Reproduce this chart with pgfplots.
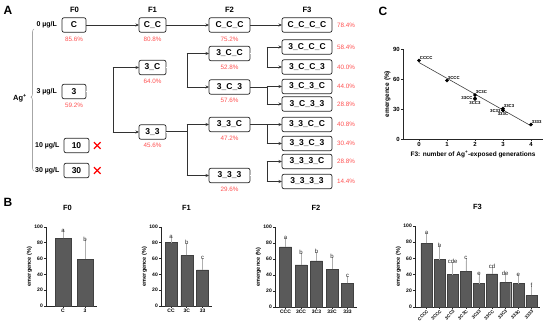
\documentclass[border=0pt]{standalone}
\usepackage{pgfplots}
\pgfplotsset{compat=1.18}
\usepackage{fontspec}
\setmainfont{Liberation Sans}
\usetikzlibrary{decorations.pathreplacing, arrows.meta}
\definecolor{pct}{RGB}{255,80,80}
\definecolor{barc}{RGB}{90,90,90}
\definecolor{errc}{RGB}{175,175,175}
\definecolor{linec}{RGB}{50,50,50}
\newcommand{\fs}[1]{\fontsize{#1}{#1}\selectfont}
\pgfplotsset{
  gp/.style={
    scale only axis, axis lines=left,
    axis line style={-, line width=0.6pt, black!85},
    tick align=outside, major tick length=2pt,
    tick style={line width=0.6pt, black!85},
    ticklabel style={font=\bfseries\fs{5}, inner sep=1pt},
    /pgf/number format/assume math mode=true,
    label style={font=\bfseries\fs{5.5}},
    ylabel style={yshift=-2pt},
    title style={font=\bfseries\fs{7.5}, at={(0.5,1)}, anchor=center, yshift=13pt},
    clip=false,
  },
  bp/.style={gp, ymin=0, ymax=100, ytick={0,20,...,100}, ylabel={emergence (\%)}},
  barsty/.style={ybar, fill=barc, draw=black!75, line width=0.4pt,
    error bars/y dir=plus, error bars/y explicit,
    error bars/error bar style={errc, line width=0.7pt},
    error bars/error mark options={errc, line width=0.7pt, mark size=3pt}},
  letsty/.style={draw=none, mark=none, nodes near coords, point meta=explicit symbolic,
    nodes near coords style={anchor=south, font=\fs{6}, inner sep=1pt, text=black!85}},
}
\begin{document}
\begin{tikzpicture}[x=1pt,y=1pt]
\path[use as bounding box] (0,0) rectangle (550,329);

% ---------- Panel labels ----------
\node[font=\bfseries\fs{12}] at (8,319) {A};
\node[font=\bfseries\fs{12}] at (8,127) {B};
\node[font=\bfseries\fs{12}] at (383,318) {C};

\draw[gray!70, line width=0.6pt, decorate, decoration={brace, amplitude=3pt, aspect=0.52}] (34,158) -- (34,300);
\node[font=\bfseries\fs{7.5}] at (20,231) {Ag\textsuperscript{+}};

\begin{scope}[shift={(0,329)}, yscale=-1]
\tikzset{
  bx/.style={draw=black!85, line width=0.7pt, rounded corners=2pt, inner sep=0pt,
    font=\bfseries\fs{8.5}, minimum height=14.5pt},
  c0/.style={bx, minimum width=24pt},
  c1/.style={bx, minimum width=27pt},
  c2/.style={bx, minimum width=41pt},
  c3/.style={bx, minimum width=50pt},
  pb/.style={font=\fs{6.3}, text=pct},
  pr/.style={font=\fs{6.3}, text=pct, anchor=west},
  hd/.style={font=\bfseries\fs{7.7}},
  cl/.style={font=\bfseries\fs{7}, anchor=east},
  ln/.style={draw=linec, line width=0.6pt},
  ar/.style={ln, -{Stealth[length=3.5pt,width=3pt]}},
  dl/.style={draw=linec, line width=0.5pt, double, double distance=0.9pt},
}
% headers
\node[hd] at (74.5,10) {F0};
\node[hd] at (152.5,10) {F1};
\node[hd] at (229.5,10) {F2};
\node[hd] at (307,10) {F3};
% concentrations
\node[cl] at (60.5,25) {0 µg/L};
\node[cl] at (60.5,91.5) {3 µg/L};
\node[cl] at (63,145.5) {10 µg/L};
\node[cl] at (63,170.5) {30 µg/L};
% F0
\node[c0] at (74,25) {C};
\node[c0] at (74,91.5) {3};
\node[bx, minimum width=25pt] at (76.5,145.5) {10};
\node[bx, minimum width=25pt] at (76.5,170.5) {30};
\node[pb] at (74,39) {85.6\%};
\node[pb] at (74,105) {59.2\%};
\foreach \yy in {145.5,170.5}{
  \draw[red, line width=1.3pt] (94,\yy-3.3) -- (100.6,\yy+3.3);
  \draw[red, line width=1.3pt] (94,\yy+3.3) -- (100.6,\yy-3.3);
}
% F1
\node[c1] at (152.5,25) {C\_C};
\node[c1] at (152.5,67.5) {3\_C};
\node[c1] at (152.5,132) {3\_3};
\node[pb] at (152.5,39) {80.8\%};
\node[pb] at (152.5,81.5) {64.0\%};
\node[pb] at (152.5,145.5) {45.6\%};
% F2
\node[c2] at (229.5,25) {C\_C\_C};
\node[c2] at (229.5,53.5) {3\_C\_C};
\node[c2] at (229.5,87) {3\_C\_3};
\node[c2] at (229.5,124.5) {3\_3\_C};
\node[c2] at (229.5,175.5) {3\_3\_3};
\node[pb] at (229.5,39) {75.2\%};
\node[pb] at (229.5,67) {52.8\%};
\node[pb] at (229.5,100.5) {57.6\%};
\node[pb] at (229.5,138) {47.2\%};
\node[pb] at (229.5,189.5) {29.6\%};
% F3
\node[c3] at (307,25) {C\_C\_C\_C};
\node[c3] at (307,47) {3\_C\_C\_C};
\node[c3] at (307,67) {3\_C\_C\_3};
\node[c3] at (307,86.5) {3\_C\_3\_C};
\node[c3] at (307,104) {3\_C\_3\_3};
\node[c3] at (307,124.5) {3\_3\_C\_C};
\node[c3] at (307,143.5) {3\_3\_C\_3};
\node[c3] at (307,161.5) {3\_3\_3\_C};
\node[c3] at (307,181.5) {3\_3\_3\_3};
\node[pr] at (333.5,25) {78.4\%};
\node[pr] at (333.5,47) {58.4\%};
\node[pr] at (333.5,67) {40.0\%};
\node[pr] at (333.5,86.5) {44.0\%};
\node[pr] at (333.5,104) {28.8\%};
\node[pr] at (333.5,124.5) {40.8\%};
\node[pr] at (333.5,143.5) {30.4\%};
\node[pr] at (333.5,161.5) {28.8\%};
\node[pr] at (333.5,181.5) {14.4\%};
% connectors: control line
\draw[ar] (86,25) -- (139,25);
\draw[ar] (166,25) -- (209,25);
\draw[ar] (250,25) -- (282,25);
% 3 -> 3_C, 3_3
\draw[dl] (86,91.5) -- (113,91.5);
\draw[ln] (113,67.5) -- (113,132);
\draw[ar] (112.7,67.5) -- (139,67.5);
\draw[ar] (112.7,132) -- (139,132);
% 3_C -> 3_C_C, 3_C_3
\draw[dl] (166,67.5) -- (187,67.5);
\draw[ln] (187,53.5) -- (187,87);
\draw[ar] (186.7,53.5) -- (209,53.5);
\draw[ar] (186.7,87) -- (209,87);
% 3_3 -> 3_3_C, 3_3_3
\draw[dl] (166,132) -- (187,132);
\draw[ln] (187,124.5) -- (187,175.5);
\draw[ar] (186.7,124.5) -- (209,124.5);
\draw[ar] (186.7,175.5) -- (209,175.5);
% 3_C_C
\draw[dl] (250,53.5) -- (267,53.5);
\draw[ln] (267,47) -- (267,67);
\draw[ar] (266.7,47) -- (282,47);
\draw[ar] (266.7,67) -- (282,67);
% 3_C_3
\draw[ln] (250,87) -- (267,87);
\draw[ln] (267,86.5) -- (267,104);
\draw[ar] (266.7,104) -- (282,104);
\draw[ar] (266.7,86.5) -- (282,86.5);
% 3_3_C
\draw[ln] (250,124.5) -- (267,124.5);
\draw[ln] (267,124.5) -- (267,143.5);
\draw[ar] (266.7,124.5) -- (282,124.5);
\draw[ar] (266.7,143.5) -- (282,143.5);
% 3_3_3
\draw[dl] (250,175.5) -- (267,175.5);
\draw[ln] (267,161.5) -- (267,181.5);
\draw[ar] (266.7,161.5) -- (282,161.5);
\draw[ar] (266.7,181.5) -- (282,181.5);
\end{scope}

% ---------- Panel C ----------
\begin{axis}[gp, at={(403pt,190pt)}, anchor=south west, width=140pt, height=90pt,
  xmin=-0.571, xmax=4.43, ymin=0, ymax=90, xtick={0,1,2,3,4}, ytick={0,30,60,90},
  ticklabel style={font=\bfseries\fs{6}},
  ylabel={emergence (\%)}, xlabel={F3: number of Ag\textsuperscript{+}-exposed generations},
  label style={font=\bfseries\fs{6.5}}]
\addplot[line width=0.6pt, black!75] coordinates {(0,76.5) (4,13.2)};
\addplot[only marks, mark=*, mark size=1.6pt, black] coordinates {
  (0,78.4) (1,58.4) (2,44) (2,40.8) (2,40) (3,28.8) (3,30.4) (3,28.8) (4,14.4)};
\addplot[draw=none, mark=none, nodes near coords, point meta=explicit symbolic,
  nodes near coords style={anchor=south west, font=\bfseries\fs{4.3}, inner sep=0.8pt}]
  coordinates {(0,78.4)[CCCC] (1,58.4)[3CCC] (2,44)[3C3C] (3,30.4)[33C3] (4,14.4)[3333]};
\addplot[draw=none, mark=none, nodes near coords, point meta=explicit symbolic,
  nodes near coords style={anchor=east, font=\bfseries\fs{4.3}, inner sep=0.8pt, xshift=-1.5pt, yshift=-1pt}]
  coordinates {(2,41.5)[33CC] (3,28.8)[3C33]};
\addplot[draw=none, mark=none, nodes near coords, point meta=explicit symbolic,
  nodes near coords style={anchor=north, font=\bfseries\fs{4.3}, inner sep=0.8pt, yshift=-1.5pt}]
  coordinates {(2,40)[3CC3] (3,28.8)[333C]};
\end{axis}

% ---------- Panel B ----------
% F0
\begin{axis}[bp, at={(46pt,23pt)}, anchor=south west, width=51pt, height=79pt,
  xmin=-0.773, xmax=1.545, xtick={0,1}, xticklabels={C,3}, title={F0},
  title style={xshift=-4pt}]
\addplot[barsty, bar width=16pt, error bars/error mark options={errc, line width=0.7pt, mark size=4pt}] coordinates {(0,85.6) +- (0,6.4) (1,59.2) +- (0,20.8)};
\addplot[letsty] coordinates {(0,92)[a] (1,80)[b]};
\end{axis}
% F1
\begin{axis}[bp, at={(161pt,23pt)}, anchor=south west, width=51pt, height=79pt,
  xmin=-0.635, xmax=2.6, xtick={0,1,2}, xticklabels={CC,3C,33}, title={F1}]
\addplot[barsty, bar width=12pt] coordinates {(0,80.8) +- (0,3.2) (1,64) +- (0,12) (2,45.6) +- (0,11.4)};
\addplot[letsty] coordinates {(0,84)[a] (1,76)[b] (2,57)[c]};
\end{axis}
% F2
\begin{axis}[bp, at={(275pt,22pt)}, anchor=south west, width=82pt, height=80pt,
  xmin=-0.68, xmax=4.61, xtick={0,...,4}, xticklabels={CCC,3CC,3C3,33C,333}, title={F2}]
\addplot[barsty, bar width=12pt] coordinates {(0,75.2) +- (0,7.3) (1,52.8) +- (0,11.2) (2,57.6) +- (0,7.4) (3,47.2) +- (0,11.8) (4,29.6) +- (0,5.4)};
\addplot[letsty] coordinates {(0,82.5)[a] (1,64)[b] (2,65)[b] (3,59)[b] (4,35)[c]};
\end{axis}
% F3
\begin{axis}[bp, at={(415pt,22pt)}, anchor=south west, width=125pt, height=81pt,
  xmin=-0.876, xmax=8.65, xtick={0,...,8},
  xticklabels={CCCC,3CCC,3CC3,3C3C,3C33,33CC,33C3,333C,3333},
  xticklabel style={rotate=45, anchor=north east, inner sep=0.3pt, font=\bfseries\fs{4.5}}, title={F3}]
\addplot[barsty, bar width=11pt] coordinates {(0,78.4) +- (0,9.6) (1,58.4) +- (0,14.1) (2,40) +- (0,12) (3,44) +- (0,13) (4,28.8) +- (0,8.2) (5,40.8) +- (0,5.2) (6,30.4) +- (0,6.6) (7,28.8) +- (0,7.2) (8,14.4) +- (0,7.6)};
\addplot[letsty] coordinates {(0,88)[a] (1,72.5)[b] (2,52)[cde] (3,57)[c] (4,37)[e] (5,46)[cd] (6,37)[de] (7,36)[e] (8,22)[f]};
\end{axis}
\end{tikzpicture}
\end{document}
